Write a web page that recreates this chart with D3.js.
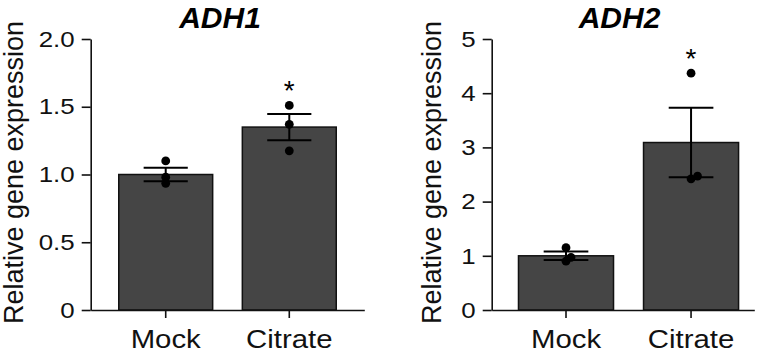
<!DOCTYPE html>
<html>
<head>
<meta charset="utf-8">
<script src="https://cdn.jsdelivr.net/npm/d3@7"></script>
<style>
  body { margin: 0; background: #fff; }
  svg { display: block; font-family: "Liberation Sans", Arial, sans-serif; }
</style>
</head>
<body>
<div id="chart-area"></div>
<script>
// data
var groups = ["Mock", "Citrate"];

var adh1Mean = [1.00, 1.35];
var adh1Sem = [0.05, 0.097];
var adh1Dots = [[1.10, 0.98, 0.935], [1.51, 1.37, 1.175]];

var adh2Mean = [1.00, 3.09];
var adh2Sem = [0.078, 0.64];
var adh2Dots = [[1.15, 0.97, 0.90], [4.37, 2.42, 2.47]];

var adh1Ticks = [0, 0.5, 1.0, 1.5, 2.0];
var adh2Ticks = [0, 1, 2, 3, 4, 5];

var width = 769, height = 353;

var svg = d3.select("#chart-area")
    .append("svg")
        .attr("width", width)
        .attr("height", height);

// one panel per gene
var panels = [
    { title: "ADH1", mean: adh1Mean, sem: adh1Sem, dots: adh1Dots, ticks: adh1Ticks,
      yMax: 2, fmt: function(d){ return d === 0 ? "0" : d3.format(".1f")(d); },
      x0: 90.7, x1: 364.3, po: 0.227, align: 0.5, labelX: 22.7, titleX: 220,
      jitter: [[0, 0, 0], [0, 0, 0]] },
    { title: "ADH2", mean: adh2Mean, sem: adh2Sem, dots: adh2Dots, ticks: adh2Ticks,
      yMax: 5, fmt: d3.format("d"),
      x0: 491.7, x1: 754.3, po: 0.17, align: 0.63, labelX: 441, titleX: 619.5,
      jitter: [[0, 5, 0], [0, 0, 6.5]] }
];

var yTop = 39, yBottom = 310;

panels.forEach(function(p){
    var g = svg.append("g");

    var x = d3.scaleBand()
        .domain(groups)
        .range([p.x0, p.x1])
        .paddingInner(0.24)
        .paddingOuter(p.po)
        .align(p.align);

    var y = d3.scaleLinear()
        .domain([0, p.yMax])
        .range([yBottom, yTop]);

    // Bars
    g.selectAll("rect.bar")
        .data(groups)
        .enter().append("rect")
            .attr("class", "bar")
            .attr("x", function(d){ return x(d); })
            .attr("width", x.bandwidth())
            .attr("y", function(d, i){ return y(p.mean[i]); })
            .attr("height", function(d, i){ return yBottom - y(p.mean[i]); })
            .attr("fill", "#454545")
            .attr("stroke", "#111")
            .attr("stroke-width", 1.5);

    // Dots
    groups.forEach(function(grp, i){
        var cx = x(grp) + x.bandwidth() / 2;
        g.selectAll("circle.d" + i)
            .data(p.dots[i])
            .enter().append("circle")
                .attr("cx", function(d, j){ return cx + p.jitter[i][j]; })
                .attr("cy", function(d){ return y(d); })
                .attr("r", 4.4)
                .attr("fill", "#000");

        // Error bar (SEM)
        var hi = y(p.mean[i] + p.sem[i]), lo = y(p.mean[i] - p.sem[i]);
        var cap = x.bandwidth() * 0.235;
        g.append("line")
            .attr("x1", cx).attr("x2", cx)
            .attr("y1", hi).attr("y2", lo)
            .attr("stroke", "#000").attr("stroke-width", 2);
        [hi, lo].forEach(function(v){
            g.append("line")
                .attr("x1", cx - cap).attr("x2", cx + cap)
                .attr("y1", v).attr("y2", v)
                .attr("stroke", "#000").attr("stroke-width", 2);
        });
    });

    // Significance star over Citrate
    var ci = 1;
    g.append("text")
        .attr("x", x(groups[ci]) + x.bandwidth() / 2)
        .attr("y", y(d3.max(p.dots[ci])) - 5)
        .attr("text-anchor", "middle")
        .attr("font-size", "28px")
        .attr("fill", "#000")
        .text("*");

    // Y Axis
    var yAxisCall = d3.axisLeft(y)
        .tickValues(p.ticks)
        .tickFormat(p.fmt)
        .tickSize(9)
        .tickSizeOuter(0);
    var yAxis = g.append("g")
        .attr("transform", "translate(" + p.x0 + ",0)")
        .call(yAxisCall);
    yAxis.select(".domain").attr("stroke", "#111").attr("stroke-width", 1.6);
    yAxis.selectAll(".tick line").attr("stroke", "#111").attr("stroke-width", 1.6);
    yAxis.selectAll(".tick text")
        .attr("x", 0)
        .attr("transform", "translate(-16,0) scale(1.15,1)")
        .attr("font-size", "22.5px")
        .attr("font-family", "Liberation Sans, Arial, sans-serif")
        .attr("fill", "#111");

    // X Axis
    var xAxisCall = d3.axisBottom(x)
        .tickSize(8)
        .tickSizeOuter(0)
        .tickPadding(10);
    var xAxis = g.append("g")
        .attr("transform", "translate(0," + yBottom + ")")
        .call(xAxisCall);
    xAxis.select(".domain").attr("stroke", "#111").attr("stroke-width", 1.6);
    xAxis.selectAll(".tick line").attr("stroke", "#111").attr("stroke-width", 1.6);
    xAxis.selectAll(".tick text")
        .attr("y", 0).attr("dy", null)
        .attr("transform", "translate(0,37.5) scale(1.13,1)")
        .attr("font-size", "26px")
        .attr("font-family", "Liberation Sans, Arial, sans-serif")
        .attr("fill", "#111");

    // Labels
    g.append("text")
        .attr("transform", "translate(" + p.labelX + "," + 172.5 + ") rotate(-90)")
        .attr("text-anchor", "middle")
        .attr("font-size", "27px")
        .attr("fill", "#111")
        .text("Relative gene expression");

    g.append("text")
        .attr("x", p.titleX)
        .attr("y", 27.5)
        .attr("text-anchor", "middle")
        .attr("font-size", "30px")
        .attr("font-weight", "bold")
        .attr("font-style", "italic")
        .attr("fill", "#000")
        .text(p.title);
});
</script>
</body>
</html>
